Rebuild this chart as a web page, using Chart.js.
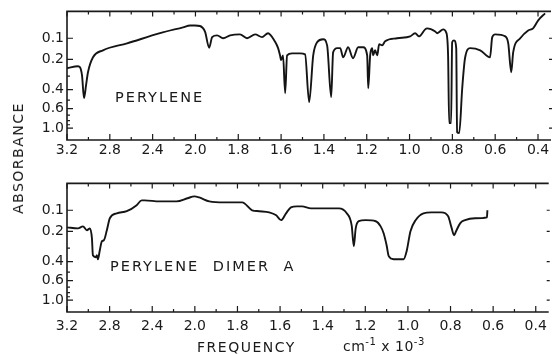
<!DOCTYPE html>
<html>
<head>
<meta charset="utf-8">
<script src="https://cdn.jsdelivr.net/npm/chart.js@4.4.0/dist/chart.umd.min.js"></script>
<style>
  body { margin: 0; background: #fff; width: 553px; height: 354px; position: relative; overflow: hidden;
         font-family: "DejaVu Sans", sans-serif; color: #1a1a1a; }
  canvas { position: absolute; left: 0; }
  .t { position: absolute; font-size: 14px; letter-spacing: 1.5px; white-space: nowrap; line-height: 1; }
  .lbl { font-size: 14.5px; letter-spacing: 2px; }
  sup { font-size: 10px; vertical-align: 6px; line-height: 0; }
</style>
</head>
<body>
<canvas id="top" width="553" height="165" style="top:0"></canvas>
<canvas id="bot" width="553" height="182" style="top:172px"></canvas>

<div class="t" style="left:18px; top:158px; transform: translate(-50%,-50%) rotate(-90deg);">ABSORBANCE</div>
<div class="t lbl" style="left:115px; top:90px;">PERYLENE</div>
<div class="t lbl" style="left:110px; top:259px; word-spacing:7px;">PERYLENE DIMER A</div>
<div class="t" style="left:197px; top:340px;">FREQUENCY</div>
<div class="t" style="left:343px; top:339px; letter-spacing:0.5px;">cm<sup>-1</sup> x 10<sup>-3</sup></div>

<script>
// frequency in cm-1 x 10^-3, absorbance
var freqTicks = [3.2, 2.8, 2.4, 2.0, 1.8, 1.6, 1.4, 1.2, 1.0, 0.8, 0.6, 0.4];
var absTicks = [0.1, 0.2, 0.4, 0.6, 1.0];
var absMinor = [0.3, 0.5, 0.7, 0.8, 0.9];

var freqPerylene = [
  3.2, 3.097, 3.06, 3.041, 3.022, 3.004, 2.957, 2.864, 2.639, 2.331,
  2.116, 2.05, 2.004, 1.979, 1.955, 1.936, 1.922, 1.899, 1.871, 1.838,
  1.792, 1.759, 1.721, 1.689, 1.661, 1.628, 1.614, 1.605, 1.6, 1.591,
  1.581, 1.572, 1.549, 1.511, 1.488, 1.469, 1.45, 1.432, 1.404, 1.385,
  1.366, 1.357, 1.338, 1.324, 1.31, 1.287, 1.264, 1.24, 1.217, 1.198,
  1.193, 1.184, 1.175, 1.17, 1.161, 1.151, 1.142, 1.128, 1.114, 1.058,
  0.997, 0.974, 0.955, 0.927, 0.918, 0.88, 0.871, 0.843, 0.829, 0.82,
  0.815, 0.806, 0.801, 0.792, 0.782, 0.778, 0.768, 0.754, 0.741, 0.717,
  0.67, 0.624, 0.614, 0.6, 0.553, 0.539, 0.525, 0.516, 0.483, 0.446,
  0.423, 0.399, 0.367
];
var absPerylene = [
  0.25, 0.238, 0.293, 0.479, 0.365, 0.274, 0.189, 0.154, 0.122, 0.079,
  0.056, 0.049, 0.049, 0.051, 0.074, 0.142, 0.095, 0.088, 0.1, 0.088,
  0.084, 0.1, 0.084, 0.095, 0.079, 0.115, 0.144, 0.179, 0.204, 0.179,
  0.432, 0.179, 0.169, 0.169, 0.174, 0.522, 0.179, 0.117, 0.104, 0.131,
  0.469, 0.164, 0.144, 0.144, 0.189, 0.14, 0.194, 0.14, 0.14, 0.179,
  0.389, 0.179, 0.144, 0.179, 0.154, 0.179, 0.126, 0.131, 0.113, 0.1,
  0.092, 0.079, 0.092, 0.064, 0.06, 0.072, 0.079, 0.064, 0.076, 0.179,
  0.857, 0.857, 0.117, 0.109, 0.144, 1.16, 1.21, 0.389, 0.194, 0.144,
  0.154, 0.189, 0.096, 0.084, 0.092, 0.122, 0.274, 0.164, 0.1, 0.068,
  0.06, 0.03, 0.006
];

var freqDimer = [
  3.2, 3.097, 3.05, 3.013, 2.985, 2.966, 2.957, 2.929, 2.92, 2.91,
  2.892, 2.873, 2.854, 2.826, 2.798, 2.733, 2.639, 2.546, 2.499, 2.471,
  2.331, 2.172, 2.069, 2.004, 1.979, 1.932, 1.862, 1.778, 1.731, 1.698,
  1.651, 1.618, 1.595, 1.572, 1.549, 1.521, 1.497, 1.455, 1.385, 1.324,
  1.287, 1.264, 1.254, 1.245, 1.231, 1.198, 1.151, 1.128, 1.114, 1.1,
  1.09, 1.067, 1.02, 1.006, 0.988, 0.964, 0.927, 0.89, 0.843, 0.811,
  0.797, 0.783, 0.774, 0.755, 0.732, 0.685, 0.629, 0.627
];
var absDimer = [
  0.179, 0.184, 0.174, 0.194, 0.184, 0.238, 0.35, 0.365, 0.35, 0.381,
  0.314, 0.256, 0.25, 0.194, 0.135, 0.113, 0.104, 0.079, 0.06, 0.06,
  0.064, 0.064, 0.052, 0.045, 0.049, 0.064, 0.068, 0.068, 0.1, 0.104,
  0.109, 0.122, 0.144, 0.113, 0.088, 0.084, 0.084, 0.092, 0.092, 0.092,
  0.113, 0.169, 0.287, 0.184, 0.149, 0.144, 0.149, 0.174, 0.21, 0.281,
  0.357, 0.381, 0.381, 0.321, 0.199, 0.144, 0.113, 0.109, 0.109, 0.126,
  0.174, 0.221, 0.199, 0.159, 0.144, 0.135, 0.131, 0.1
];

// chart paper changes scale at 2000 cm-1
function freqToPos(f) {
  return f >= 2.0 ? (3.2 - f) / 0.4 : 3 + (2.0 - f) / 0.2;
}
// absorbance axis is linear in transmittance
function absToT(a) {
  return Math.pow(10, -a);
}

var ink = '#1a1a1a';
var font = { family: '"DejaVu Sans", sans-serif', size: 14 };

var frame = {
  id: 'frame',
  afterDraw: function (chart) {
    var ctx = chart.ctx, a = chart.chartArea, x = chart.scales.x, y = chart.scales.y;
    ctx.save();
    ctx.strokeStyle = ink;
    ctx.lineWidth = 1.6;
    ctx.beginPath();
    ctx.moveTo(a.right + 4, a.top);
    ctx.lineTo(a.left, a.top);
    ctx.lineTo(a.left, a.bottom);
    ctx.lineTo(a.right + 4, a.bottom);
    ctx.stroke();

    ctx.lineWidth = 1.2;
    ctx.beginPath();
    freqTicks.forEach(function (f, i) {
      var px = x.getPixelForValue(freqToPos(f));
      ctx.moveTo(px, a.bottom); ctx.lineTo(px, a.bottom - 6);
      ctx.moveTo(px, a.top); ctx.lineTo(px, a.top + 5);
      if (i < freqTicks.length - 1) {
        var mx = x.getPixelForValue(freqToPos(f) + 0.5);
        ctx.moveTo(mx, a.bottom); ctx.lineTo(mx, a.bottom - 3);
        ctx.moveTo(mx, a.top); ctx.lineTo(mx, a.top + 3);
      }
    });
    absTicks.forEach(function (v) {
      var py = y.getPixelForValue(absToT(v));
      ctx.moveTo(a.left, py); ctx.lineTo(a.left + 6, py);
      ctx.moveTo(a.right + 5, py); ctx.lineTo(a.right + 2, py);
    });
    absMinor.forEach(function (v) {
      var py = y.getPixelForValue(absToT(v));
      ctx.moveTo(a.left, py); ctx.lineTo(a.left + 3, py);
    });
    ctx.stroke();
    ctx.restore();
  }
};

function makeChart(id, freq, abs, axisHeight, labelPad) {
  return new Chart(document.getElementById(id), {
    type: 'line',
    data: {
      datasets: [{
        data: freq.map(function (f, i) { return { x: freqToPos(f), y: absToT(abs[i]) }; }),
        borderColor: '#141414',
        borderWidth: 1.9,
        pointRadius: 0,
        cubicInterpolationMode: 'monotone',
        fill: false
      }]
    },
    options: {
      responsive: false,
      animation: false,
      events: [],
      layout: { padding: { top: 11, right: 6, left: 0, bottom: 0 } },
      plugins: { legend: { display: false }, tooltip: { enabled: false } },
      scales: {
        x: {
          type: 'linear', min: 0, max: 11.21,
          grid: { display: false, drawTicks: false },
          border: { display: false },
          afterBuildTicks: function (s) { s.ticks = freqTicks.map(function (f) { return { value: freqToPos(f) }; }); },
          afterFit: function (s) { s.height = axisHeight; },
          ticks: {
            autoSkip: false, maxRotation: 0, padding: labelPad, color: ink, font: font,
            callback: function (v, i) { return freqTicks[i].toFixed(1); }
          }
        },
        y: {
          type: 'linear', min: 0.008, max: 1.002,
          grid: { display: false, drawTicks: false },
          border: { display: false },
          afterBuildTicks: function (s) { s.ticks = absTicks.map(function (v) { return { value: absToT(v) }; }); },
          afterFit: function (s) { s.width = 67; },
          ticks: {
            padding: 3, color: ink, font: font,
            callback: function (v, i) { return absTicks[i].toFixed(1); }
          }
        }
      }
    },
    plugins: [frame]
  });
}

makeChart('top', freqPerylene, absPerylene, 25, 2);
makeChart('bot', freqDimer, absDimer, 42, 6);
</script>
</body>
</html>
